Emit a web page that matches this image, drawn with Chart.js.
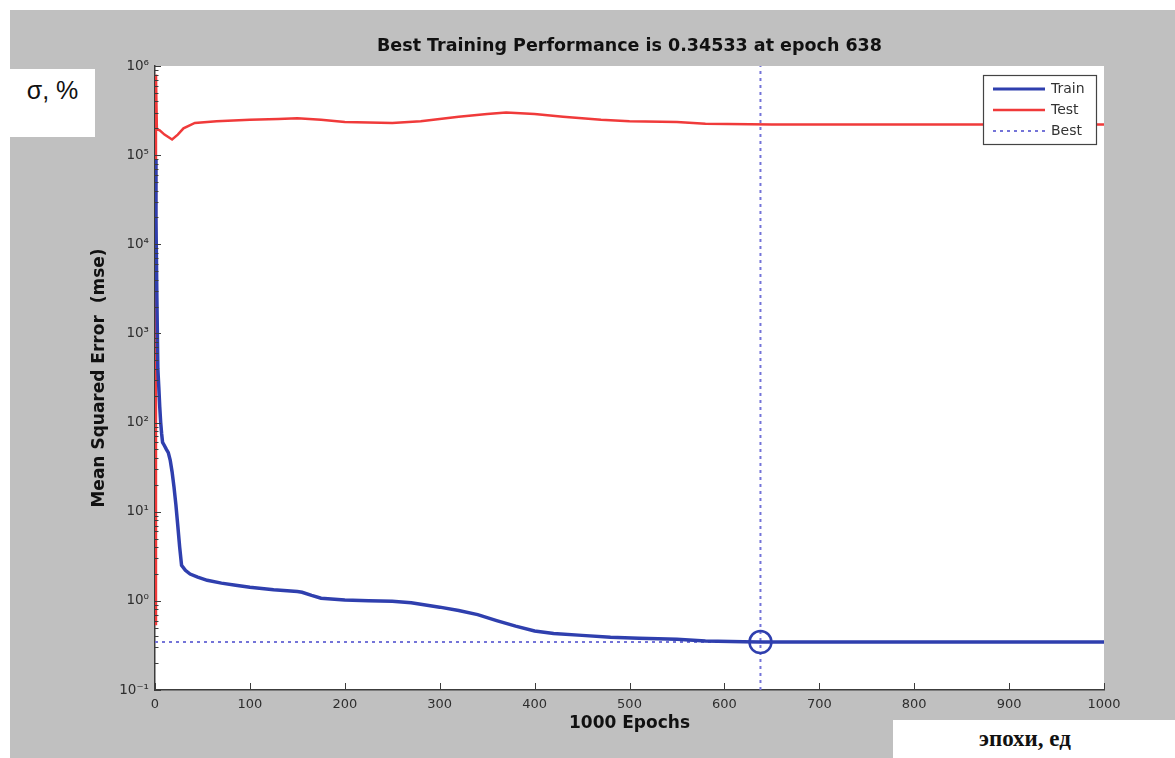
<!DOCTYPE html>
<html>
<head>
<meta charset="utf-8">
<title>Best Training Performance</title>
<script src="https://cdn.jsdelivr.net/npm/chart.js@4.4.0/dist/chart.umd.min.js"></script>
<style>
  html, body { margin: 0; padding: 0; background: #fff; }
  #frame { position: absolute; left: 10px; top: 10px; width: 1165px; height: 748px; background: #c0c0c0; }
  .note { position: absolute; background: #fff; color: #111; box-sizing: border-box; white-space: nowrap; }
  #sigmaNote { left: 10px; top: 69px; width: 85px; height: 68px; padding-top: 6px; text-align: center;
               font: 25px "Liberation Sans", Arial, sans-serif; line-height: 30px; }
  #epochNote { left: 893px; top: 720px; width: 282px; height: 38px; padding-left: 86px;
               font: bold 23px "Liberation Serif", serif; line-height: 38px; }
</style>
</head>
<body>
<div id="frame"><canvas id="perf"></canvas></div>
<div class="note" id="sigmaNote">σ, %</div>
<div class="note" id="epochNote">эпохи, ед</div>
<script>
// training curve (mse, log scale)
const trainEpochs = [0,1,2,3,4,5,6,7,8,10,12,14,16,18,20,22,24,26,28,32,37,45,55,70,85,100,125,150,155,165,175,200,225,250,270,300,320,340,360,380,400,420,450,480,510,550,580,620,638,700,800,900,1000];
const trainMse = [9e4,2e4,2500,400,250,150,100,75,60,55,50,46,38,28,19,12,7,4,2.5,2.2,2.0,1.85,1.7,1.58,1.5,1.42,1.33,1.27,1.25,1.15,1.07,1.02,1.0,0.99,0.95,0.85,0.78,0.7,0.6,0.52,0.46,0.43,0.41,0.39,0.38,0.37,0.355,0.348,0.34533,0.3455,0.3455,0.3455,0.3455];

// test curve
const testEpochs = [0,1,2,5,10,18,24,30,42,65,100,130,150,175,200,250,280,320,350,370,400,430,470,500,550,580,650,800,1000];
const testMse = [0.55,8e5,1.95e5,1.9e5,1.7e5,1.5e5,1.7e5,2.0e5,2.3e5,2.4e5,2.5e5,2.55e5,2.6e5,2.5e5,2.35e5,2.3e5,2.4e5,2.7e5,2.9e5,3.0e5,2.9e5,2.7e5,2.5e5,2.4e5,2.35e5,2.25e5,2.2e5,2.2e5,2.2e5];

const bestEpoch = 638;
const bestMse = 0.34533;

const xTickValues = [0,100,200,300,400,500,600,700,800,900,1000];
const xTickLabels = ['0','100','200','300','400','500','600','700','800','900','1000'];
const yTickValues = [0.1,1,10,100,1e3,1e4,1e5,1e6];
const yTickLabels = ['10⁻¹','10⁰','10¹','10²','10³','10⁴','10⁵','10⁶'];
const legendLabels = ['Train','Test','Best'];

const trainColor = '#2f3fae';
const testColor = '#f03a3a';
const bestColor = '#7474d8';
const axisColor = '#3c3c3c';

Chart.defaults.font.family = '"DejaVu Sans", sans-serif';

function pts(xs, ys) {
  return xs.map((x, i) => ({ x: x, y: ys[i] }));
}

// white plot box, inward ticks (matlab style) and the boxed legend
const matlabFrame = {
  id: 'matlabFrame',
  beforeDraw(chart) {
    const a = chart.chartArea, ctx = chart.ctx;
    ctx.save();
    ctx.fillStyle = '#fff';
    ctx.fillRect(a.left, a.top, a.right - a.left, a.bottom - a.top);
    ctx.restore();
  },
  afterDatasetsDraw(chart) {
    const ctx = chart.ctx, a = chart.chartArea;
    const xs = chart.scales.x, ys = chart.scales.y;
    ctx.save();
    ctx.strokeStyle = axisColor;
    ctx.lineWidth = 1;
    ctx.beginPath();
    xTickValues.forEach(v => {
      const px = Math.round(xs.getPixelForValue(v)) + 0.5;
      ctx.moveTo(px, a.bottom);
      ctx.lineTo(px, a.bottom - 7);
    });
    yTickValues.forEach((v, i) => {
      const py = Math.round(ys.getPixelForValue(v)) + 0.5;
      ctx.moveTo(a.left, py);
      ctx.lineTo(a.left + 6, py);
      if (i < yTickValues.length - 1) {
        for (let k = 2; k <= 9; k++) {
          const pm = Math.round(ys.getPixelForValue(v * k)) + 0.5;
          ctx.moveTo(a.left, pm);
          ctx.lineTo(a.left + 3.5, pm);
        }
      }
    });
    ctx.stroke();
    ctx.restore();
  },
  afterDraw(chart) {
    const ctx = chart.ctx, a = chart.chartArea;
    const w = 113, h = 69;
    const x0 = a.right - 8 - w, y0 = a.top + 9;
    const styles = [
      { color: trainColor, width: 3, dash: [] },
      { color: testColor, width: 2.5, dash: [] },
      { color: bestColor, width: 2, dash: [3, 4] }
    ];
    ctx.save();
    ctx.fillStyle = '#fff';
    ctx.fillRect(x0, y0, w, h);
    ctx.strokeStyle = '#444';
    ctx.lineWidth = 1.2;
    ctx.strokeRect(x0 + 0.5, y0 + 0.5, w, h);
    legendLabels.forEach((label, i) => {
      const y = y0 + 14 + i * 21;
      const s = styles[i];
      ctx.beginPath();
      ctx.strokeStyle = s.color;
      ctx.lineWidth = s.width;
      ctx.setLineDash(s.dash);
      ctx.moveTo(x0 + 10, y);
      ctx.lineTo(x0 + 62, y);
      ctx.stroke();
      ctx.setLineDash([]);
      ctx.fillStyle = '#333';
      ctx.font = '14px "DejaVu Sans"';
      ctx.textBaseline = 'middle';
      ctx.fillText(label, x0 + 68, y);
    });
    ctx.restore();
  }
};

new Chart(document.getElementById('perf'), {
  type: 'line',
  data: {
    datasets: [
      { label: 'Train', data: pts(trainEpochs, trainMse), borderColor: trainColor, borderWidth: 3.5, pointRadius: 0, tension: 0 },
      { label: 'Best point', data: [{ x: bestEpoch, y: bestMse }], showLine: false, pointRadius: 11,
        pointBorderWidth: 2.5, pointBorderColor: trainColor, pointBackgroundColor: 'rgba(0,0,0,0)' },
      { label: 'Test', data: pts(testEpochs, testMse), borderColor: testColor, borderWidth: 2.5, pointRadius: 0, tension: 0 },
      { label: 'Best', data: [{ x: xTickValues[0], y: bestMse }, { x: xTickValues[xTickValues.length - 1], y: bestMse }],
        borderColor: bestColor, borderWidth: 2, borderDash: [3, 4], pointRadius: 0 },
      { label: 'Best epoch', data: [{ x: bestEpoch, y: yTickValues[0] }, { x: bestEpoch, y: yTickValues[yTickValues.length - 1] }],
        borderColor: bestColor, borderWidth: 2, borderDash: [3, 4], pointRadius: 0 }
    ]
  },
  options: {
    responsive: true,
    maintainAspectRatio: false,
    animation: false,
    events: [],
    layout: { padding: { left: 70, right: 71, top: 0, bottom: 18 } },
    plugins: {
      legend: { display: false },
      tooltip: { enabled: false },
      title: {
        display: true,
        fullSize: false,
        text: 'Best Training Performance is 0.34533 at epoch 638',
        color: '#111',
        font: { size: 17.5, weight: 'bold' },
        padding: { top: 26, bottom: 9 }
      }
    },
    scales: {
      x: {
        type: 'linear',
        min: 0,
        max: 1000,
        afterBuildTicks: s => { s.ticks = xTickValues.map(v => ({ value: v })); },
        afterFit: s => { s.height = 50; },
        grid: { display: false, drawTicks: false },
        border: { display: true, color: axisColor, width: 1.5 },
        ticks: { callback: (v, i) => xTickLabels[i], color: '#2e2e2e', font: { size: 13 }, padding: 7, maxRotation: 0, autoSkip: false },
        title: { display: true, text: '1000 Epochs', color: '#111', font: { size: 17, weight: 'bold' }, padding: { top: 0, bottom: 6 } }
      },
      y: {
        type: 'logarithmic',
        min: 0.1,
        max: 1e6,
        afterBuildTicks: s => { s.ticks = yTickValues.map(v => ({ value: v })); },
        afterFit: s => { s.width = 75; },
        grid: { display: false, drawTicks: false },
        border: { display: true, color: axisColor, width: 1.5 },
        ticks: { callback: (v, i) => yTickLabels[i], color: '#2e2e2e', font: { size: 13.5 }, padding: 6, autoSkip: false },
        title: { display: true, text: 'Mean Squared Error  (mse)', color: '#111', font: { size: 17, weight: 'bold' }, padding: { top: 9, bottom: 0 } }
      }
    }
  },
  plugins: [matlabFrame]
});
</script>
</body>
</html>
